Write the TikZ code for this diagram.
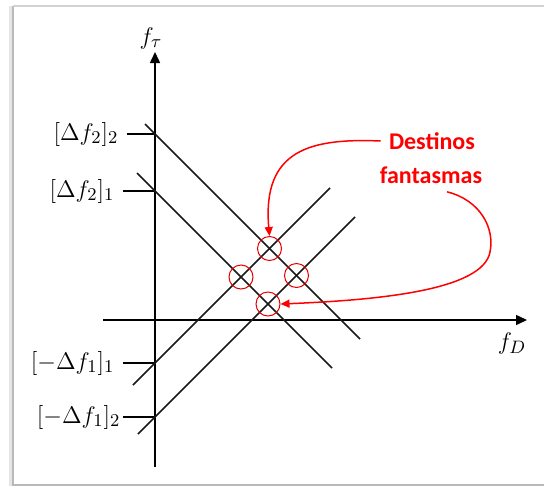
\documentclass[tikz,border=0pt,12pt]{standalone}
\usepackage{amsmath}
\usepackage{fontspec}
\newfontfamily\calib{Carlito}
\usetikzlibrary{positioning, calc, arrows.meta}

\begin{document}
\begin{tikzpicture}[
        x=0.5pt, y=-0.5pt,
        axis/.style={line width=0.75pt, -{Triangle[length=5.5pt, width=5pt]}},
        trace/.style={line width=0.75pt, black!90},
        tick/.style={line width=0.7pt},
        ticklab/.style={anchor=east, inner sep=0pt, xshift=-4pt, font=\fontsize{13}{15}\selectfont},
        axlab/.style={font=\fontsize{13}{15}\selectfont},
        ghost/.style={circle, draw=red!90!black, line width=0.5pt, minimum size=12pt, inner sep=0pt},
        ghostarrow/.style={draw=red, line width=0.75pt, -{Triangle[length=4.5pt, width=4pt]}},
        note/.style={font=\calib\bfseries, text=red, align=center},
    ]

    \useasboundingbox (0,0) rectangle (544,487);

    % frame
    \draw[gray!20, line width=2pt] (11,6) -- (11,486);
    \draw[gray!55, line width=0.6pt] (13,6) -- (13,485) -- (544,485);
    \draw[gray!35, line width=0.6pt] (13,6) -- (544,6);

    % axes
    \coordinate (xs) at (103,320);
    \coordinate (xe) at (527,320);
    \coordinate (ys) at (155,467);
    \coordinate (ye) at (155,52);
    \draw[axis] (xs) -- (xe);
    \draw[axis] (ys) -- (ye);
    \node[axlab] (fD) at (512,343) {$f_D$};
    \node[axlab] (ftau) at (151,38) {$f_\tau$};

    % ticks on the f_tau axis
    \coordinate (t22) at (155,134);
    \coordinate (t21) at (155,191);
    \coordinate (t11) at (155,363);
    \coordinate (t12) at (155,417);
    \draw[tick] (t22) -- ++(-28,0) node[ticklab] (l22) {$[\Delta f_2]_2$};
    \draw[tick] (t21) -- ++(-32,0) node[ticklab] (l21) {$[\Delta f_2]_1$};
    \draw[tick] (t11) -- ++(-32,0) node[ticklab] (l11) {$[-\Delta f_1]_1$};
    \draw[tick] (t12) -- ++(-32,0) node[ticklab, xshift=3pt] (l12) {$[-\Delta f_1]_2$};

    % lines
    \coordinate (dn1s) at (145,124);
    \coordinate (dn1e) at (360,339);
    \coordinate (dn2s) at (137,173);
    \coordinate (dn2e) at (332,368);
    \coordinate (up1s) at (133,385);
    \coordinate (up1e) at (330,188);
    \coordinate (up2s) at (138,434);
    \coordinate (up2e) at (355,217);
    \draw[trace] (dn1s) -- (dn1e);
    \draw[trace] (dn2s) -- (dn2e);
    \draw[trace] (up1s) -- (up1e);
    \draw[trace] (up2s) -- (up2e);

    % ghost targets
    \node[ghost] (gT) at (269.5,248.5) {};
    \node[ghost] (gR) at (296.5,275.5) {};
    \node[ghost] (gL) at (241,277) {};
    \node[ghost] (gB) at (268,304) {};

    \node[note] (dest) at (432,141) {Destinos};
    \node[note] (fant) at (431,175) {fantasmas};

    \draw[ghostarrow] (dest.west) .. controls (310,138) and (262,150) .. (gT.north);
    \draw[ghostarrow] ([xshift=8pt]fant.south) .. controls (480,200) and (495,228) .. (490,252)
        .. controls (483,290) and (380,300) .. (gB.east);

\end{tikzpicture}
\end{document}
